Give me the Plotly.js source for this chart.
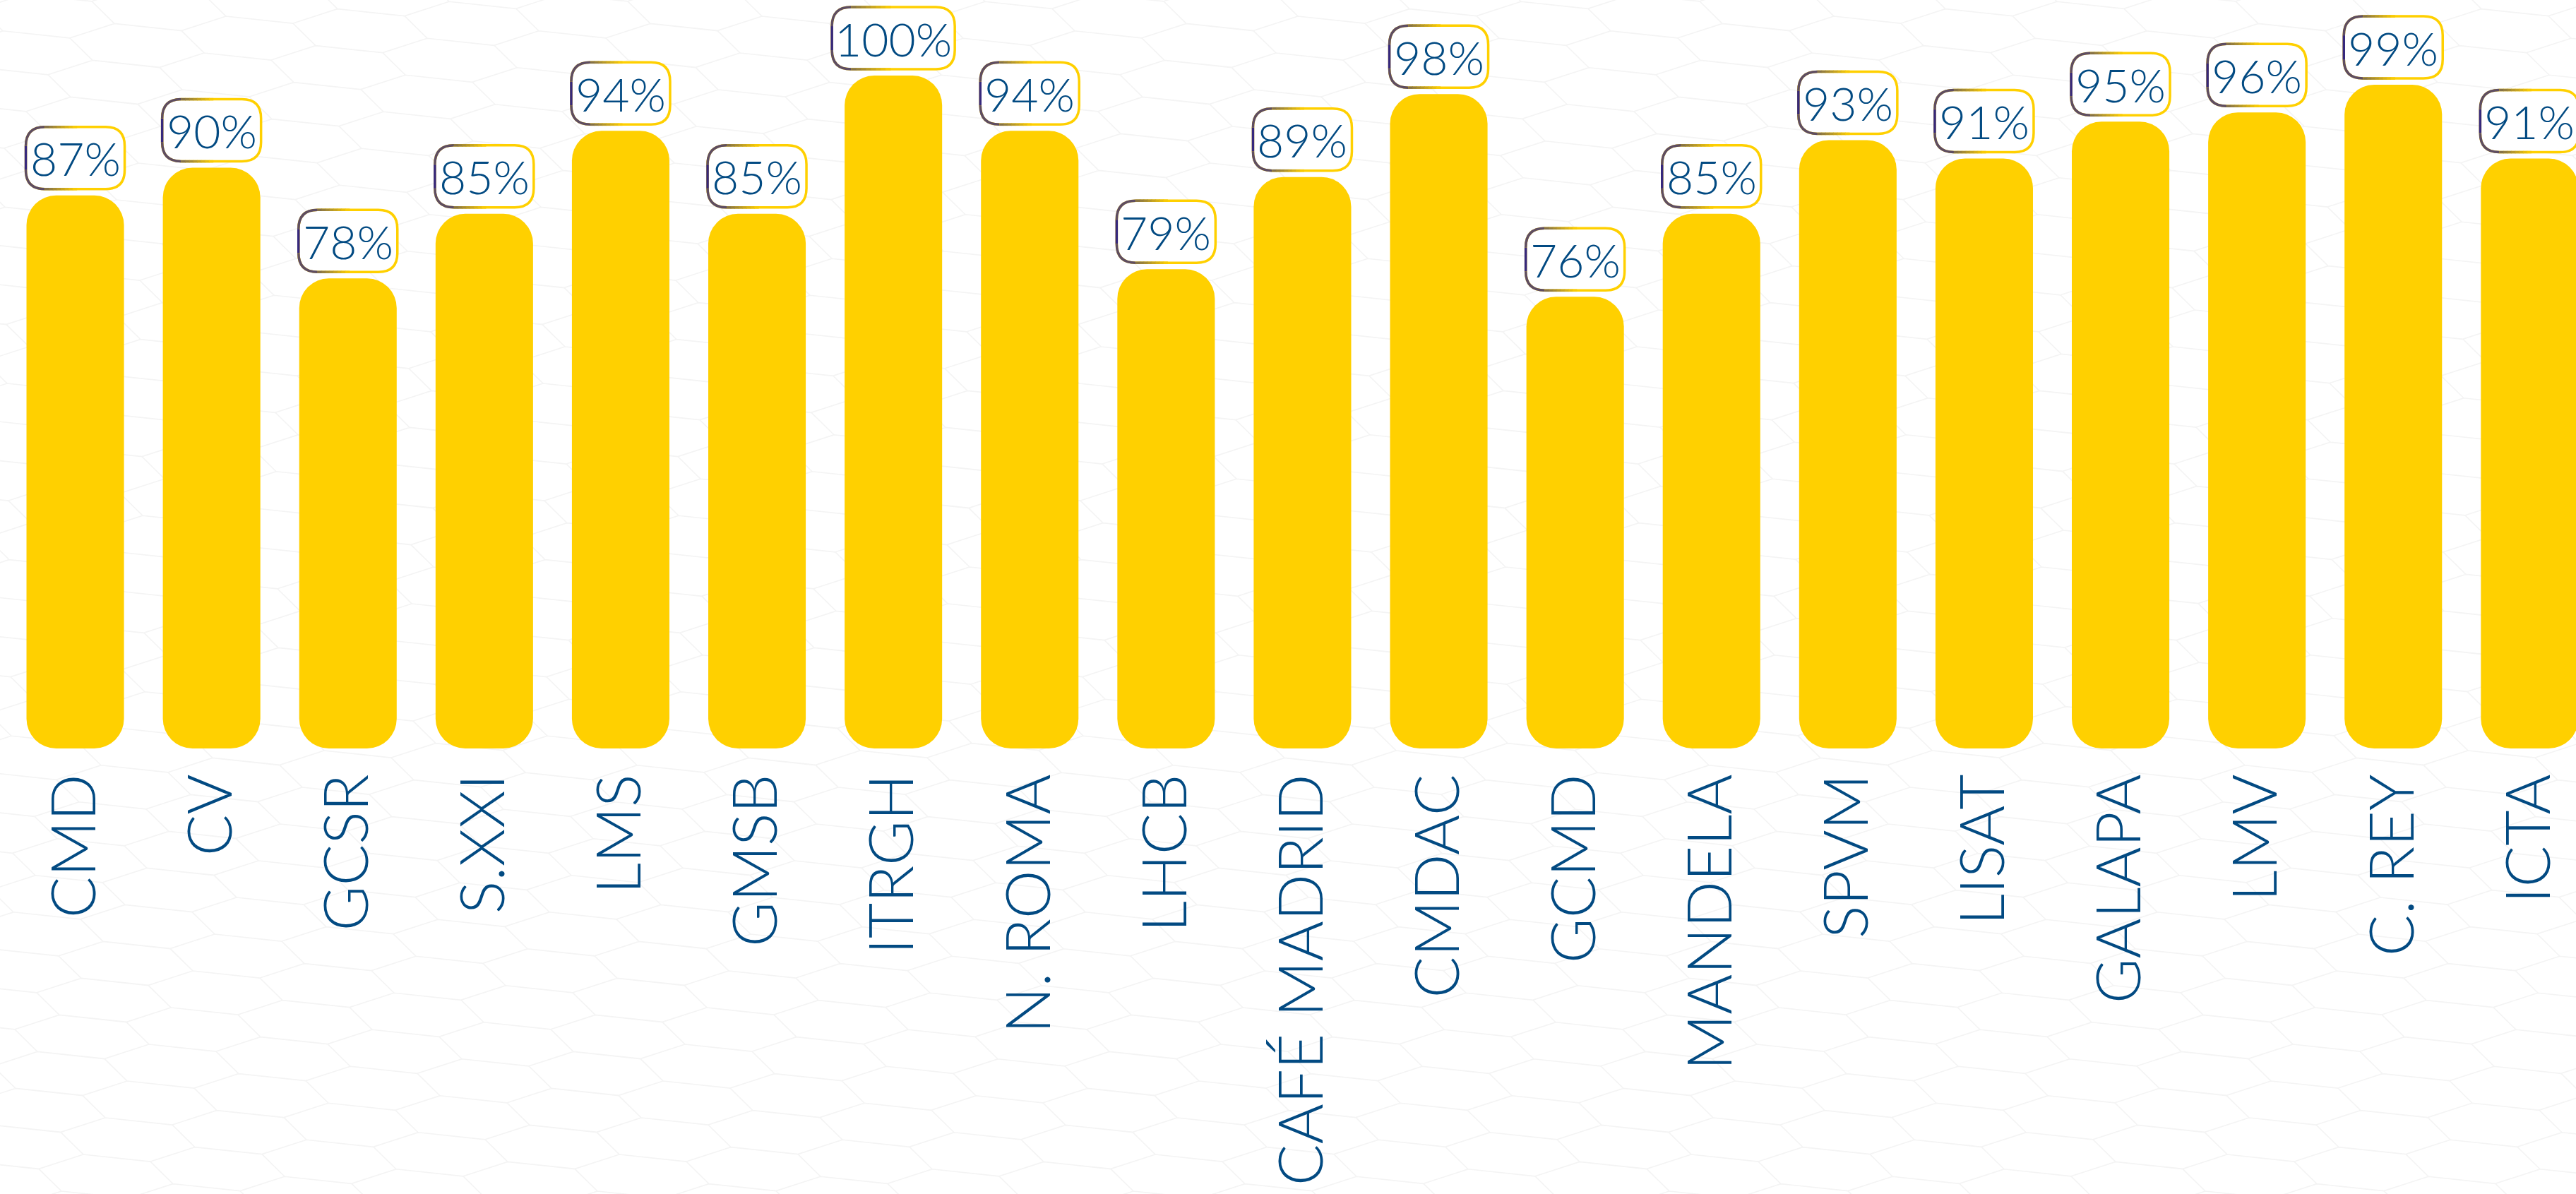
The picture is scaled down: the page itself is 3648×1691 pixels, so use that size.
<!DOCTYPE html>
<html>
<head>
<meta charset="utf-8">
<script src="https://cdn.plot.ly/plotly-3.0.1.min.js"></script>
<style>
html, body { margin: 0; padding: 0; background: #ffffff; }
#wrap { position: relative; width: 3648px; height: 1691px; overflow: hidden; background: #ffffff; }
#bg { position: absolute; left: 0; top: 0; }
#chart { position: absolute; left: 0; top: 0; width: 3648px; height: 1691px; }
</style>
</head>
<body>
<div id="wrap">
  <svg id="bg" width="3648" height="1691" xmlns="http://www.w3.org/2000/svg"></svg>
  <div id="chart"></div>
</div>
<script>
// ---- data ----
const categories = ["CMD", "CV", "GCSR", "S.XXI", "LMS", "GMSB", "ITRGH", "N. ROMA", "LHCB",
  "CAFÉ MADRID", "CMDAC", "GCMD", "MANDELA", "SPVM", "LISAT", "GALAPA", "LMV", "C. REY", "ICTA"];
const values = [87, 90, 78, 85, 94, 85, 100, 94, 79, 89, 98, 76, 85, 93, 91, 95, 96, 99, 91];
const valueLabels = values.map(v => v + "%");

// ---- style ----
const YELLOW = "#FFD000";
const BLUE = "#024A82";
const FONT = "Lato";
const AXIS_FLOOR = 27;   // y axis starts here (truncated axis, as in the original)
const AXIS_TOP = 108.2;
const W = 3648, H = 1691;
const M = { l: 10, r: 0, t: 0, b: 631 };
const X_RANGE = [-0.5, 18.34];

// ---- faint hexagon background ----
(function drawHex() {
  const svg = document.getElementById("bg");
  const ax = 158, ay = -10.4, bx = -31, by = 52;
  const off = [[0, 0], [95, 10.2], [127, 41.6], [64, 62], [-31, 52], [-63, 20.4]];
  let d = "";
  for (let m = -25; m <= 30; m++) {
    for (let n = -10; n <= 45; n++) {
      const ox = 1838 + m * ax + n * bx;
      const oy = 23 + m * ay + n * by;
      if (ox < -250 || ox > 3900 || oy < -150 || oy > 1850) continue;
      d += "M" + off.map(p => (ox + p[0]).toFixed(1) + "," + (oy + p[1]).toFixed(1)).join("L") + "Z";
    }
  }
  const path = document.createElementNS("http://www.w3.org/2000/svg", "path");
  path.setAttribute("d", d);
  path.setAttribute("fill", "none");
  path.setAttribute("stroke", "#f4f4f4");
  path.setAttribute("stroke-width", "1.6");
  svg.appendChild(path);
})();

// ---- bars (pill shaped, rounded at both ends) ----
const bars = {
  type: "bar",
  x: categories,
  y: values.map(v => v - AXIS_FLOOR),
  base: AXIS_FLOOR,
  marker: { color: YELLOW, cornerradius: 42, line: { width: 0 } },
  hoverinfo: "skip"
};

// ---- label boxes ----
function hexToRgb(h) { return [1, 3, 5].map(i => parseInt(h.substr(i, 2), 16)); }
function mix(c1, c2, t) {
  const a = hexToRgb(c1), b = hexToRgb(c2);
  return "rgb(" + a.map((v, i) => Math.round(v + (b[i] - v) * t)).join(",") + ")";
}
const shapes = [];
const annotations = [];
values.forEach((v, i) => {
  const label = valueLabels[i];
  const w = 38 + 34 * label.length, h = 88, g = 9, r = 27;
  const x0 = -w / 2, x1 = w / 2, y0 = g, y1 = g + h;
  const base = { type: "path", xref: "x", yref: "y", xsizemode: "pixel", ysizemode: "pixel",
    xanchor: i, yanchor: v, layer: "above" };
  const rect = `M${x0 + r},${y0} L${x1 - r},${y0} Q${x1},${y0} ${x1},${y0 + r} L${x1},${y1 - r} ` +
    `Q${x1},${y1} ${x1 - r},${y1} L${x0 + r},${y1} Q${x0},${y1} ${x0},${y1 - r} L${x0},${y0 + r} Q${x0},${y0} ${x0 + r},${y0} Z`;
  shapes.push(Object.assign({}, base, { path: rect, fillcolor: "#ffffff", line: { color: YELLOW, width: 3.5 } }));
  // gradient part of the border (dark violet at left fading to yellow)
  const VIOLET = "#36287C", OLIVE = "#7E6C4C";
  shapes.push(Object.assign({}, base, { path: `M${x0},${y1 - r} L${x0},${y0 + r}`, line: { color: VIOLET, width: 3.5 } }));
  shapes.push(Object.assign({}, base, { path: `M${x0},${y1 - r} Q${x0},${y1} ${x0 + r},${y1}`, line: { color: mix(VIOLET, OLIVE, 0.55), width: 3.5 } }));
  shapes.push(Object.assign({}, base, { path: `M${x0},${y0 + r} Q${x0},${y0} ${x0 + r},${y0}`, line: { color: mix(VIOLET, OLIVE, 0.55), width: 3.5 } }));
  const L = 0.32 * w, steps = 8;
  for (let k = 0; k < steps; k++) {
    const xa = x0 + r + L * k / steps, xb = x0 + r + L * (k + 1) / steps + 0.8;
    const col = mix(OLIVE, YELLOW, (k + 0.5) / steps);
    shapes.push(Object.assign({}, base, { path: `M${xa},${y1} L${xb},${y1}`, line: { color: col, width: 3.5 } }));
    shapes.push(Object.assign({}, base, { path: `M${xa},${y0} L${xb},${y0}`, line: { color: col, width: 3.5 } }));
  }
  annotations.push({
    x: i, y: v, xref: "x", yref: "y", text: label, showarrow: false,
    yanchor: "middle", xanchor: "center", yshift: g + h / 2,
    font: { family: FONT, size: 66, color: BLUE, weight: 300 }
  });
});

const layout = {
  width: W, height: H,
  margin: { l: M.l, r: M.r, t: M.t, b: M.b, pad: 0 },
  paper_bgcolor: "rgba(0,0,0,0)",
  plot_bgcolor: "rgba(0,0,0,0)",
  barmode: "overlay",
  bargap: 0.285,
  showlegend: false,
  xaxis: {
    type: "category",
    range: X_RANGE,
    tickangle: -90,
    tickfont: { family: FONT, size: 87, color: BLUE, weight: 300 },
    ticks: "", ticklabelstandoff: 18,
    showgrid: false, zeroline: false, showline: false, automargin: false, fixedrange: true
  },
  yaxis: {
    range: [AXIS_FLOOR, AXIS_TOP],
    visible: false, showgrid: false, zeroline: false, fixedrange: true
  },
  shapes: shapes,
  annotations: annotations
};

Plotly.newPlot("chart", [bars], layout, { displayModeBar: false, staticPlot: true });
</script>
</body>
</html>
